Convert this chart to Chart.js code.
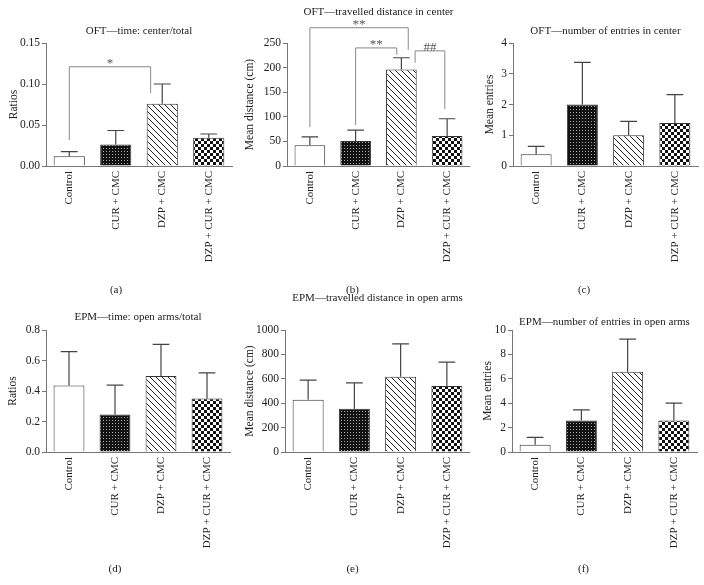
<!DOCTYPE html>
<html>
<head>
<meta charset="utf-8">
<script src="https://cdn.jsdelivr.net/npm/chart.js@4/dist/chart.umd.min.js"></script>
<style>
  body { margin: 0; background: #fff; width: 704px; height: 585px; position: relative; overflow: hidden; }
  canvas { position: absolute; }
</style>
</head>
<body>
<canvas id="a" width="235" height="300" style="left:0;top:0"></canvas>
<canvas id="b" width="235" height="300" style="left:235px;top:0"></canvas>
<canvas id="c" width="234" height="300" style="left:470px;top:0"></canvas>
<canvas id="d" width="235" height="298" style="left:0;top:287px"></canvas>
<canvas id="e" width="235" height="298" style="left:235px;top:287px"></canvas>
<canvas id="f" width="234" height="298" style="left:470px;top:287px"></canvas>
<script>
const categories = ['Control', 'CUR + CMC', 'DZP + CMC', 'DZP + CUR + CMC'];

// means and SEM
const meansA = [0.012, 0.0263, 0.076, 0.0345];
const semA   = [0.0055, 0.017, 0.024, 0.0045];
const meansB = [42, 51, 196, 61];
const semB   = [17, 22, 24, 35];
const meansC = [0.38, 2.0, 1.0, 1.4];
const semC   = [0.26, 1.37, 0.45, 0.92];
const meansD = [0.436, 0.246, 0.499, 0.351];
const semD   = [0.222, 0.192, 0.207, 0.168];
const meansE = [428, 354, 616, 542];
const semE   = [161, 213, 270, 194];
const meansF = [0.6, 2.59, 6.57, 2.59];
const semF   = [0.6, 0.87, 2.69, 1.41];

// significance brackets: category index from/to, bar height, leg ends
const bracketsA = [
  { from: 0, to: 1.75, y: 0.121, legFrom: 0.0316, legTo: 0.089, text: '*' }
];
const bracketsB = [
  { from: 0, to: 2.15, y: 281, legFrom: 79, legTo: 236, text: '**' },
  { from: 1, to: 1.9, y: 240, legFrom: 83, legTo: 226, text: '**' },
  { from: 2.3, to: 2.95, y: 234, legFrom: 210, legTo: 116, text: '##' }
];

const txt = '#222';
const axisCol = '#777';
Chart.defaults.font.family = '"Liberation Serif", "DejaVu Serif", serif';
Chart.defaults.color = txt;

function tile(ctx, size, draw) {
  const c = document.createElement('canvas');
  c.width = size; c.height = size;
  const g = c.getContext('2d');
  draw(g);
  return ctx.createPattern(c, 'repeat');
}
function fills(ctx) {
  const dots = tile(ctx, 3, g => {
    g.fillStyle = '#111'; g.fillRect(0, 0, 3, 3);
    g.fillStyle = '#aaa'; g.fillRect(1, 1, 1, 1);
  });
  const hatch = tile(ctx, 6, g => {
    g.fillStyle = '#fff'; g.fillRect(0, 0, 6, 6);
    g.fillStyle = '#222';
    for (let i = 0; i < 6; i++) g.fillRect(i, i, 1, 1);
  });
  const check = tile(ctx, 6, g => {
    g.fillStyle = '#111'; g.fillRect(0, 0, 6, 6);
    g.fillStyle = '#fff'; g.fillRect(0, 0, 3, 3); g.fillRect(3, 3, 3, 3);
  });
  return ['#fff', dots, hatch, check];
}

const semPlugin = {
  id: 'semBars',
  afterDatasetsDraw(chart, args, opts) {
    const meta = chart.getDatasetMeta(0);
    const y = chart.scales.y;
    const c = chart.ctx;
    const vals = chart.data.datasets[0].data;
    c.save();
    c.strokeStyle = '#444';
    c.lineWidth = 1.2;
    meta.data.forEach((bar, i) => {
      const top = y.getPixelForValue(vals[i] + opts.sem[i]);
      const half = bar.width * 0.27;
      c.beginPath();
      c.moveTo(bar.x, bar.y);
      c.lineTo(bar.x, top);
      c.moveTo(bar.x - half, top);
      c.lineTo(bar.x + half, top);
      c.stroke();
    });
    c.restore();
  }
};

const bracketPlugin = {
  id: 'sigBrackets',
  afterDraw(chart, args, opts) {
    if (!opts.items) return;
    const x = chart.scales.x, y = chart.scales.y, c = chart.ctx;
    c.save();
    c.strokeStyle = '#888';
    c.fillStyle = '#555';
    c.lineWidth = 1;
    c.font = '13px "Liberation Serif", serif';
    c.textAlign = 'center';
    c.textBaseline = 'bottom';
    opts.items.forEach(b => {
      const x0 = x.getPixelForValue(b.from), x1 = x.getPixelForValue(b.to);
      const yt = y.getPixelForValue(b.y);
      c.beginPath();
      c.moveTo(x0, y.getPixelForValue(b.legFrom));
      c.lineTo(x0, yt);
      c.lineTo(x1, yt);
      c.lineTo(x1, y.getPixelForValue(b.legTo));
      c.stroke();
      c.fillText(b.text, (x0 + x1) / 2, yt + 3);
    });
    c.restore();
  }
};

const panels = [
  { id: 'a', title: 'OFT—time: center/total', yTitle: 'Ratios', means: meansA, sem: semA, max: 0.15, step: 0.05, dec: 2,
    axisW: 46, padR: 3, tTop: 24.4, tBot: 5.4, yPad: 7, sub: '(a)', sTop: 17.4, sBot: 3.4, brackets: bracketsA },
  { id: 'b', title: 'OFT—travelled distance in center', yTitle: 'Mean distance (cm)', means: meansB, sem: semB, max: 250, step: 50, dec: 0,
    axisW: 52, padR: 0, tTop: 5.4, tBot: 24.4, yPad: 8.5, sub: '(b)', sTop: 17.4, sBot: 3.4, brackets: bracketsB },
  { id: 'c', title: 'OFT—number of entries in center', yTitle: 'Mean entries', means: meansC, sem: semC, max: 4, step: 1, dec: 0,
    axisW: 43, padR: 6, tTop: 24.4, tBot: 5.4, yPad: 13, sub: '(c)', sTop: 17.4, sBot: 3.4 },
  { id: 'd', title: 'EPM—time: open arms/total', yTitle: 'Ratios', means: meansD, sem: semD, max: 0.8, step: 0.2, dec: 1,
    axisW: 46, padR: 5, tTop: 23.4, tBot: 6.4, yPad: 6.5, sub: '(d)', sTop: 10.4, sBot: 9.4 },
  { id: 'e', title: 'EPM—travelled distance in open arms', yTitle: 'Mean distance (cm)', means: meansE, sem: semE, max: 1000, step: 200, dec: 0,
    axisW: 50, padR: 0, tTop: 4.4, tBot: 25.4, yPad: 8.5, sub: '(e)', sTop: 10.4, sBot: 9.4 },
  { id: 'f', title: 'EPM—number of entries in open arms', yTitle: 'Mean entries', means: meansF, sem: semF, max: 10, step: 2, dec: 0,
    axisW: 42, padR: 7, tTop: 28.4, tBot: 1.4, yPad: 11.5, sub: '(f)', sTop: 10.4, sBot: 9.4 }
];

panels.forEach(p => {
  const cv = document.getElementById(p.id);
  const ctx = cv.getContext('2d');
  new Chart(cv, {
    type: 'bar',
    data: {
      labels: categories,
      datasets: [{
        data: p.means,
        backgroundColor: fills(ctx),
        borderColor: '#333',
        borderWidth: 1,
        barPercentage: 0.67,
        categoryPercentage: 1
      }]
    },
    plugins: [semPlugin, bracketPlugin],
    options: {
      responsive: false,
      animation: false,
      devicePixelRatio: 1,
      layout: { padding: { left: 0, right: p.padR, top: 0, bottom: 0 } },
      scales: {
        x: {
          afterFit: s => { s.height = 100; },
          grid: { display: true, drawOnChartArea: false, drawTicks: false, color: axisCol },
          border: { display: true, color: axisCol, width: 1 },
          ticks: { minRotation: 90, maxRotation: 90, autoSkip: false, padding: 5, color: txt, font: { size: 11 } }
        },
        y: {
          min: 0, max: p.max,
          afterFit: s => { s.width = p.axisW; },
          grid: { display: true, drawOnChartArea: false, drawTicks: true, tickLength: 4, color: axisCol },
          border: { display: true, color: axisCol, width: 1 },
          ticks: { stepSize: p.step, padding: 2, color: txt, font: { size: 11.5 },
                   callback: v => v.toFixed(p.dec) },
          title: { display: true, text: p.yTitle, color: txt, font: { size: 11.5 }, padding: { top: p.yPad, bottom: 0 } }
        }
      },
      plugins: {
        legend: { display: false },
        tooltip: { enabled: false },
        title: { display: true, text: p.title, fullSize: false, color: txt,
                 font: { size: 11, weight: 'normal' }, padding: { top: p.tTop, bottom: p.tBot } },
        subtitle: { display: true, text: p.sub, position: 'bottom', color: txt,
                    font: { size: 11 }, padding: { top: p.sTop, bottom: p.sBot } },
        semBars: { sem: p.sem },
        sigBrackets: { items: p.brackets }
      }
    }
  });
});
</script>
</body>
</html>
